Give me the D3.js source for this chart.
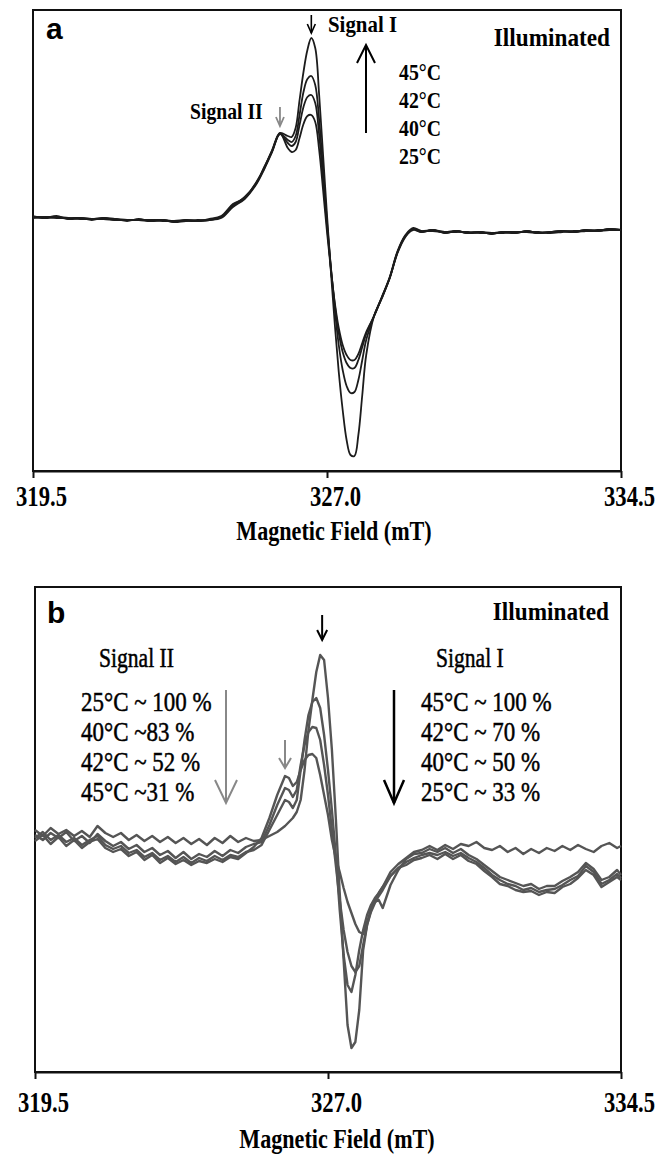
<!DOCTYPE html>
<html><head><meta charset="utf-8">
<script src="https://cdn.jsdelivr.net/npm/d3@7"></script>
<style>body{margin:0;background:#fff}</style>
</head><body>
<svg id="chart" width="666" height="1155"></svg>
<script>
// ---------- DATA ----------
const xTicks = [319.5, 327.0, 334.5];
const xTitle = "Magnetic Field (mT)";
const tempsA = ["45°C", "42°C", "40°C", "25°C"];
const sig2Rows = ["25°C ~ 100 %", "40°C ~83 %", "42°C ~ 52 %", "45°C ~31 %"];
const sig1Rows = ["45°C ~ 100 %", "42°C ~ 70 %", "40°C ~ 50 %", "25°C ~ 33 %"];

// panel a: field grid (mT) and EPR signal (a.u.)
const fieldA = [319.5,319.8,320.1,320.4,320.7,321.0,321.3,321.6,321.9,322.2,322.5,322.8,323.1,323.4,323.7,324.0,324.3,324.6,324.9,325.2,325.4,325.6,325.8,
  326.0,326.1,326.2,326.3,326.4,326.5,326.6,326.7,326.8,326.9,327.0,327.1,327.2,327.3,327.4,327.5,327.6,327.7,327.8,327.9,328.0,328.2,
  328.4,328.6,328.8,329.0,329.2,329.4,329.7,330.0,330.3,330.6,330.9,331.2,331.5,331.8,332.1,332.4,332.7,333.0,333.3,333.6,333.9,334.2,334.5];
const a45 = [24,22,24,21,22,20,22,21,19,21,19,20,18,20,19,21,24,36,42,58,72,90,107,
  104,103,112,140,168,190,202,192,145,85,25,-32,-85,-132,-170,-200,-215,-216,-195,-155,-115,-76,
  -58,-38,-12,4,11,8,10,7,9,7,8,6,8,7,9,7,8,9,8,10,9,11,10];
const a42 = [23,23,22,22,21,21,21,20,20,20,20,19,19,19,20,20,23,34,43,57,73,89,106,
  100,98,104,125,148,161,164,155,120,70,18,-28,-70,-105,-130,-146,-153,-152,-140,-120,-100,-76,
  -57,-37,-11,5,12,9,9,8,8,8,7,7,7,8,8,8,7,8,9,9,9,10,10];
const a40 = [22,23,23,21,22,21,21,21,20,20,20,20,19,20,19,20,22,33,41,56,71,88,106,
  97,94,98,115,133,143,145,137,105,60,14,-28,-65,-93,-112,-123,-128,-128,-120,-107,-94,-76,
  -58,-38,-13,3,11,9,10,8,9,7,8,7,8,8,8,7,8,9,8,9,10,10,10];
const a25 = [23,22,23,22,22,21,22,20,20,20,19,20,18,19,19,20,23,35,42,57,72,89,107,
  92,88,90,102,116,124,125,118,90,50,8,-30,-63,-88,-105,-115,-120,-120,-114,-103,-92,-76,
  -57,-38,-12,4,10,8,10,7,9,7,8,6,8,7,9,7,8,9,8,10,9,11,10];

// panel b: field grid (mT) and EPR signal (a.u.)
const fieldB = [319.5,319.7,319.9,320.1,320.3,320.5,320.7,320.9,321.1,321.3,321.5,321.7,321.9,322.1,322.3,322.5,322.7,322.9,323.1,323.3,323.5,323.7,323.9,324.1,324.3,324.5,324.7,324.9,325.1,
  325.3,325.5,325.7,325.9,326.0,326.1,326.2,326.3,326.4,326.5,326.6,326.7,326.8,326.9,327.0,327.1,327.2,327.3,327.4,327.5,327.6,327.7,327.8,327.9,328.0,328.1,328.2,328.3,328.4,
  328.6,328.8,329.0,329.2,329.4,329.6,329.8,330.0,330.2,330.4,330.6,330.8,331.0,331.2,331.4,331.6,331.8,332.0,332.2,332.4,332.6,332.8,333.0,333.2,333.4,333.6,333.8,334.0,334.2,334.4,334.5];
const b45 = [20,14,22,16,20,14,19,13,24,17,13,17,10,15,9,14,8,13,7,12,6,11,5,12,7,14,8,12,9,
  10,14,18,24,28,32,38,50,80,120,150,178,195,190,152,100,32,-43,-110,-175,-198,-192,-160,-100,-75,-62,-53,-46,-40,
  -26,-18,-15,-10,-8,-5,-9,-4,-9,-5,-11,-14,-21,-27,-34,-36,-40,-42,-41,-45,-42,-43,-37,-34,-28,-20,-25,-37,-32,-27,-30];
const b42 = [12,18,10,15,8,12,5,10,14,5,1,4,-3,0,-7,-3,-10,-6,-12,-7,-13,-8,-11,-6,-10,-5,-7,-2,0,
  5,20,35,50,48,42,50,80,110,135,148,152,142,115,80,40,-5,-60,-105,-135,-142,-125,-100,-80,-65,-55,-48,-43,-37,
  -26,-18,-12,-8,-5,-3,-5,-2,-6,-3,-8,-12,-18,-25,-30,-34,-36,-40,-38,-42,-40,-39,-35,-30,-26,-16,-22,-34,-30,-24,-28];
const b40 = [15,10,17,12,18,9,14,7,16,9,4,8,1,5,-2,2,-5,-1,-8,-2,-9,-4,-7,-1,-6,0,-3,3,6,
  8,25,45,62,60,53,60,85,105,118,123,122,110,85,55,20,-15,-50,-80,-102,-116,-122,-116,-95,-75,-60,-52,-50,-58,
  -35,-20,-9,-4,-3,1,-2,2,-3,1,-5,-9,-15,-21,-27,-30,-33,-36,-34,-39,-36,-36,-31,-27,-22,-13,-19,-30,-27,-20,-25];
const b25 = [9,15,6,13,4,10,2,8,11,2,-2,1,-6,-2,-10,-5,-13,-8,-14,-10,-15,-11,-13,-9,-12,-7,-9,-3,3,
  12,32,55,74,72,64,68,80,90,95,96,92,75,55,35,10,-8,-22,-38,-52,-63,-74,-82,-84,-72,-60,-50,-43,-37,
  -22,-14,-8,-2,0,4,0,5,1,6,4,8,2,0,4,-2,2,-4,1,-3,2,-1,4,0,5,1,-2,4,7,2,4];

// ---------- DRAWING ----------
const svg = d3.select("#chart");
const SERIF = "'Liberation Serif','Times New Roman',serif";
const SANS = "'Liberation Sans',Arial,sans-serif";

function txt(g, x, y, s, o) {
  return g.append("text")
    .attr("transform", `translate(${x},${y}) scale(${o.sx || 1},1)`)
    .attr("text-anchor", o.anchor || "start")
    .attr("font-family", o.family || SERIF)
    .attr("font-weight", o.weight || "bold")
    .attr("font-size", o.size)
    .attr("fill", o.fill || "#000")
    .attr("stroke", o.stroke || "none")
    .attr("stroke-width", o.sw || 0)
    .text(s);
}
function arrow(g, x, y1, y2, len, half, color, w) {
  const dir = y2 > y1 ? -1 : 1;
  g.append("line").attr("x1", x).attr("x2", x).attr("y1", y1).attr("y2", y2)
    .attr("stroke", color).attr("stroke-width", w);
  g.append("path").attr("d", `M${x - half},${y2 + dir * len} L${x},${y2} L${x + half},${y2 + dir * len}`)
    .attr("fill", "none").attr("stroke", color).attr("stroke-width", w).attr("stroke-linejoin", "miter");
}

function panel(cfg) {
  const g = svg.append("g");
  const x = d3.scaleLinear().domain([319.5, 334.5]).range([cfg.left, cfg.right]);
  const y = d3.scaleLinear().domain(cfg.ydom).range([cfg.bottom, cfg.top]);
  g.append("rect").attr("x", cfg.left).attr("y", cfg.top)
    .attr("width", cfg.right - cfg.left).attr("height", cfg.bottom - cfg.top)
    .attr("fill", "none").attr("stroke", "#111").attr("stroke-width", 2);

  const line = d3.line().x((d, i) => x(cfg.field[i])).y(d => y(d)).curve(cfg.curve);
  cfg.series.forEach(s => {
    g.append("path").attr("d", line(s)).attr("fill", "none")
      .attr("stroke", cfg.color).attr("stroke-width", cfg.lw).attr("stroke-linejoin", "round");
  });

  const ax = g.append("g").attr("transform", `translate(0,${cfg.bottom})`)
    .call(d3.axisBottom(x).tickValues(xTicks).tickFormat(d3.format(".1f")).tickSize(7).tickSizeOuter(0));
  ax.select(".domain").attr("stroke", "#111").attr("stroke-width", 2);
  ax.selectAll(".tick line").attr("stroke", "#111").attr("stroke-width", 2);
  ax.selectAll(".tick text")
    .attr("y", 0).attr("dy", 0)
    .attr("transform", `translate(8,${cfg.labelOff}) scale(0.78,1)`)
    .attr("font-family", SERIF).attr("font-weight", "bold").attr("font-size", 29).attr("fill", "#000");
  txt(g, cfg.titleX, cfg.titleY, xTitle, { size: 27, sx: 0.82, anchor: "middle" });
  return { g, x, y };
}

// Panel a
const A = panel({ left: 33, right: 621, top: 10, bottom: 471, ydom: [-231, 230],
  field: fieldA, series: [a25, a40, a42, a45], color: "#1c1c1c", lw: 1.8,
  curve: d3.curveCatmullRom.alpha(0.5),
  labelOff: 35, titleX: 334, titleY: 540 });
txt(A.g, 46, 39, "a", { size: 30, family: SANS });
txt(A.g, 610, 46, "Illuminated", { size: 25, sx: 0.93, anchor: "end" });
txt(A.g, 328, 32, "Signal I", { size: 24, sx: 0.87 });
txt(A.g, 190, 119, "Signal II", { size: 24, sx: 0.82 });
tempsA.forEach((t, i) => txt(A.g, 399, 80 + i * 28, t, { size: 23, sx: 0.86 }));
arrow(A.g, 366, 133, 45, 18, 9, "#000", 2);
arrow(A.g, A.x(326.6), 15, 33, 9, 4, "#000", 1.6);
arrow(A.g, A.x(325.8), 107, 126, 9, 4, "#888", 1.8);

// Panel b
const B = panel({ left: 35, right: 621, top: 587, bottom: 1072, ydom: [-222, 263],
  field: fieldB, series: [b25, b40, b42, b45], color: "#555", lw: 2.4,
  curve: d3.curveLinear,
  labelOff: 40, titleX: 337, titleY: 1148 });
txt(B.g, 47, 623, "b", { size: 30, family: SANS });
txt(B.g, 609, 620, "Illuminated", { size: 25, sx: 0.93, anchor: "end" });
txt(B.g, 99, 667, "Signal II", { size: 27, sx: 0.8, weight: "normal", stroke: "#000", sw: 0.5 });
txt(B.g, 436, 667, "Signal I", { size: 27, sx: 0.8, weight: "normal", stroke: "#000", sw: 0.5 });
sig2Rows.forEach((t, i) => txt(B.g, 81, 711 + i * 30, t, { size: 28, sx: 0.82, weight: "normal", stroke: "#000", sw: 0.5 }));
sig1Rows.forEach((t, i) => txt(B.g, 421, 711 + i * 30, t, { size: 28, sx: 0.82, weight: "normal", stroke: "#000", sw: 0.5 }));
arrow(B.g, 226, 690, 803, 23, 11, "#888", 2);
arrow(B.g, 394, 690, 803, 23, 10, "#000", 2.5);
arrow(B.g, B.x(326.85), 615, 640, 10, 5, "#000", 2);
arrow(B.g, B.x(325.9), 740, 768, 10, 6, "#888", 2);
</script>
</body></html>
